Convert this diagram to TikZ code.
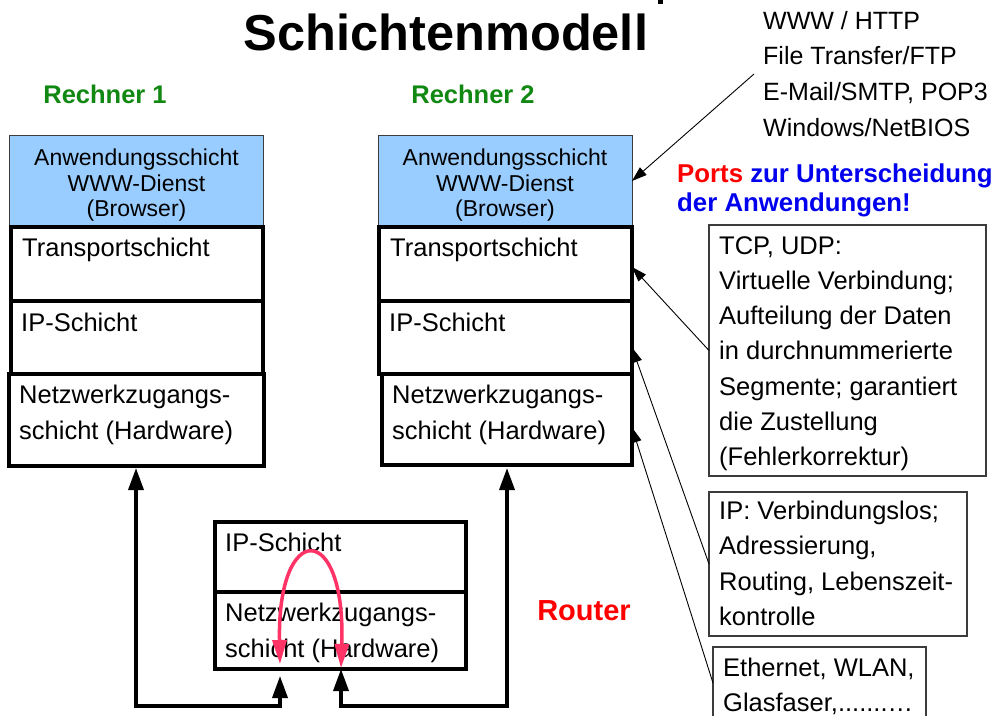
\documentclass[tikz,border=0pt]{standalone}
\usepackage{fontspec}
\setmainfont{Liberation Sans}
\usetikzlibrary{arrows.meta}
\definecolor{appblue}{RGB}{153,204,255}
\definecolor{rgreen}{RGB}{17,136,17}
\definecolor{pblue}{RGB}{0,0,238}
\definecolor{pred}{RGB}{255,0,0}
\definecolor{pinkarc}{RGB}{255,51,102}
\definecolor{boxgray}{RGB}{60,60,60}
\newcommand{\myfs}[2]{\fontsize{#1}{#2}\selectfont}
\tikzset{
  appbox/.style={draw=boxgray, line width=0.9pt, fill=appblue, inner sep=0pt, outer sep=0pt, anchor=north west},
  layerbox/.style={draw=black, line width=3.2pt, fill=white, inner sep=0pt, outer sep=0pt, anchor=north west},
  infobox/.style={draw=boxgray, line width=1.2pt, fill=white, inner sep=0pt, outer sep=0pt, anchor=north west},
  ltext/.style={inner sep=0pt, anchor=base west, font=\myfs{25.5}{30}},
  apptext/.style={inner sep=0pt, anchor=base, font=\myfs{23}{26}},
  bigarrow/.style={line width=3.5pt, {Triangle[length=22pt,width=15pt]}-{Triangle[length=22pt,width=15pt]}},
  thinarrow/.style={line width=0.9pt, -{Triangle[length=15pt,width=10pt]}},
  pinkarrow/.style={draw=pinkarc, line width=3.5pt, {Triangle[length=24pt,width=14pt]}-{Triangle[length=24pt,width=14pt]}}
}
\begin{document}
\begin{tikzpicture}[x=1pt,y=-1pt]
\fill[white] (0,0) rectangle (998,715);
\useasboundingbox (0,0) rectangle (998,715);
\clip (0,0) rectangle (998,715);

% title and remnant of cut line above
\fill[black] (658,0) rectangle (663,3.5);
\node[inner sep=0pt, anchor=base, font=\myfs{50.5}{55}\bfseries] (title) at (446,50) {Schichtenmodell};

% headings
\node[inner sep=0pt, anchor=base, text=rgreen, font=\myfs{25.5}{30}\bfseries] (h1) at (105,103) {Rechner 1};
\node[inner sep=0pt, anchor=base, text=rgreen, font=\myfs{25.5}{30}\bfseries] (h2) at (473,103) {Rechner 2};

% Rechner 1
\node[appbox, minimum width=254pt, minimum height=92pt] (a1) at (9,135) {};
\node[layerbox, minimum width=252pt, minimum height=74pt] (t1) at (11,227) {};
\node[layerbox, minimum width=252pt, minimum height=73pt] (i1) at (11,301) {};
\node[layerbox, minimum width=255pt, minimum height=92pt] (n1) at (9,374) {};
\node[apptext] (a1l1) at (136.5,165) {Anwendungsschicht};
\node[apptext] (a1l2) at (136.5,191) {WWW-Dienst};
\node[apptext] (a1l3) at (136.5,216) {(Browser)};
\node[ltext] (t1l) at (22,256) {Transportschicht};
\node[ltext] (i1l) at (21,331) {IP-Schicht};
\node[ltext] (n1l1) at (19,403.5) {Netzwerkzugangs-};
\node[ltext] (n1l2) at (19,439) {schicht (Hardware)};

% Rechner 2
\node[appbox, minimum width=254pt, minimum height=92pt] (a2) at (378,135) {};
\node[layerbox, minimum width=253pt, minimum height=74pt] (t2) at (379,227) {};
\node[layerbox, minimum width=253pt, minimum height=73pt] (i2) at (379,301) {};
\node[layerbox, minimum width=250pt, minimum height=91pt] (n2) at (382,374) {};
\node[apptext] (a2l1) at (505,165) {Anwendungsschicht};
\node[apptext] (a2l2) at (505,191) {WWW-Dienst};
\node[apptext] (a2l3) at (505,216) {(Browser)};
\node[ltext] (t2l) at (390,256) {Transportschicht};
\node[ltext] (i2l) at (389,331) {IP-Schicht};
\node[ltext] (n2l1) at (392,403.5) {Netzwerkzugangs-};
\node[ltext] (n2l2) at (392,439) {schicht (Hardware)};

% Router
\node[layerbox, minimum width=251pt, minimum height=70pt] (ri) at (215,522) {};
\node[layerbox, minimum width=251pt, minimum height=77pt] (rn) at (215,592) {};
\node[ltext] (ril) at (225,551) {IP-Schicht};
\node[ltext] (rnl1) at (225,621) {Netzwerkzugangs-};
\node[ltext] (rnl2) at (225,657) {schicht (Hardware)};
\node[inner sep=0pt, anchor=base, text=pred, font=\myfs{29}{32}\bfseries] (router) at (584,620) {Router};

% thick connectors
\coordinate (r1in) at (136,468);
\coordinate (r2in) at (507,468);
\coordinate (rtl) at (280,676);
\coordinate (rtr) at (341,669);
\draw[bigarrow] (rtl) -- ++(0,30) -| (r1in);
\draw[bigarrow] (rtr) -- ++(0,37) -| (r2in);

% pink loop
\coordinate (pa) at (280,664);
\coordinate (pb) at (341,668);
\draw[pinkarrow] (pa) .. controls (277,520) and (346,520) .. (pb);

% top right protocol list
\node[ltext, font=\myfs{25}{30}] (p1) at (763,29) {WWW / HTTP};
\node[ltext, font=\myfs{25}{30}] (p2) at (763,64.7) {File Transfer/FTP};
\node[ltext, font=\myfs{25}{30}] (p3) at (763,100.3) {E-Mail/SMTP, POP3};
\node[ltext, font=\myfs{25}{30}] (p4) at (763,136) {Windows/NetBIOS};
\coordinate (pstart) at (754,74);
\draw[thinarrow] (pstart) -- (a2.east);

% ports text
\node[inner sep=0pt, anchor=base west, font=\myfs{25.8}{30}\bfseries] (ports1) at (677,182) {\textcolor{pred}{Ports} \textcolor{pblue}{zur Unterscheidung}};
\node[inner sep=0pt, anchor=base west, text=pblue, font=\myfs{25.8}{30}\bfseries] (ports2) at (677,211) {der Anwendungen!};

% info boxes
\node[infobox, minimum width=277pt, minimum height=251pt] (tcp) at (709,225) {};
\foreach [count=\i] \t in {{TCP, UDP:},{Virtuelle Verbindung;},{Aufteilung der Daten},{in durchnummerierte},{Segmente; garantiert},{die Zustellung},{(Fehlerkorrektur)}}
  \node[ltext] (tcpl\i) at (719,{254+35.3*(\i-1)}) {\t};

\node[infobox, minimum width=258pt, minimum height=144pt] (ipb) at (709,492) {};
\foreach [count=\i] \t in {{IP: Verbindungslos;},{Adressierung,},{Routing, Lebenszeit-},{kontrolle}}
  \node[ltext] (ipl\i) at (719,{519+35.5*(\i-1)}) {\t};

\node[infobox, minimum width=213pt, minimum height=72pt] (eth) at (713,647) {};
\node[ltext] (ethl1) at (723,676) {Ethernet, WLAN,};
\node[ltext] (ethl2) at (723,711) {Glasfaser,.......…};

% thin arrows to layers
\draw[thinarrow] (tcp.west) -- ([yshift=-3pt]t2.east);
\draw[thinarrow] (ipb.west) -- ([yshift=-10pt]i2.east);
\draw[thinarrow] (eth.west) -- ([yshift=-8pt]n2.east);
\end{tikzpicture}
\end{document}
